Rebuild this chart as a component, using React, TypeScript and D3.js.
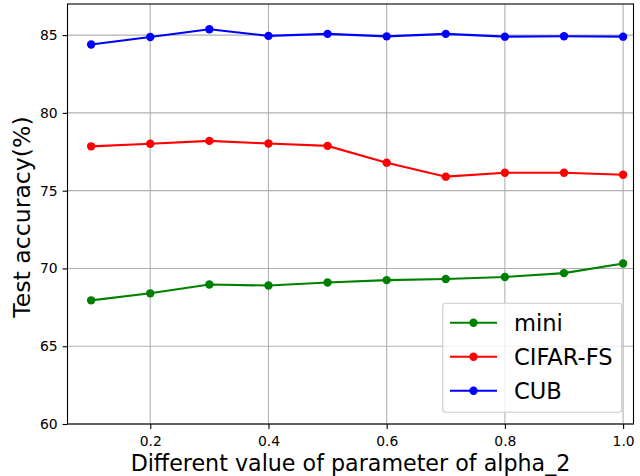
import { useEffect, useRef } from 'react';
import * as d3 from 'd3';

const alphas = [0.1, 0.2, 0.3, 0.4, 0.5, 0.6, 0.7, 0.8, 0.9, 1.0];
const miniAcc = [67.95, 68.4, 68.97, 68.9, 69.1, 69.25, 69.32, 69.45, 69.7, 70.32];
const cifarAcc = [77.85, 78.02, 78.2, 78.03, 77.88, 76.8, 75.9, 76.15, 76.15, 76.02];
const cubAcc = [84.4, 84.88, 85.38, 84.95, 85.08, 84.92, 85.08, 84.9, 84.93, 84.9];
const seriesNames = ['mini', 'CIFAR-FS', 'CUB'];
const seriesColors = ['green', 'red', 'blue'];
const xTicks = [0.2, 0.4, 0.6, 0.8, 1.0];
const yTicks = [60, 65, 70, 75, 80, 85];

const App = () => {
  const svgRef = useRef(null);

  useEffect(() => {
    const svg = d3.select(svgRef.current);
    svg.selectAll('*').remove();

    const width = 640;
    const height = 476;
    const left = 67.5, right = 633.5, top = 4, bottom = 424;
    const font = 'DejaVu Sans, sans-serif';

    const x = d3.scaleLinear().domain([0.06, 1.0176]).range([left, right]);
    const y = d3.scaleLinear().domain([60, 87]).range([bottom, top]);

    svg.attr('width', width).attr('height', height);
    svg.append('rect').attr('width', width).attr('height', height).attr('fill', 'white');

    // grid
    const grid = svg.append('g').attr('stroke', '#b0b0b0').attr('stroke-width', 1.1);
    xTicks.forEach(t => {
      grid.append('line').attr('x1', x(t)).attr('x2', x(t)).attr('y1', top).attr('y2', bottom);
    });
    yTicks.forEach(t => {
      grid.append('line').attr('x1', left).attr('x2', right).attr('y1', y(t)).attr('y2', y(t));
    });

    // series
    const all = [miniAcc, cifarAcc, cubAcc];
    const line = d3.line<number>().x((_, i) => x(alphas[i])).y(d => y(d));
    all.forEach((vals, k) => {
      svg.append('path')
        .attr('d', line(vals))
        .attr('fill', 'none')
        .attr('stroke', seriesColors[k])
        .attr('stroke-width', 2.1);
      svg.selectAll(`.dot${k}`)
        .data(vals)
        .enter()
        .append('circle')
        .attr('cx', (_, i) => x(alphas[i]))
        .attr('cy', d => y(d))
        .attr('r', 4.2)
        .attr('fill', seriesColors[k]);
    });

    // axes
    const xAxis = svg.append('g')
      .attr('transform', `translate(0,${bottom})`)
      .call(d3.axisBottom(x).tickValues(xTicks).tickSize(4.9).tickPadding(7).tickFormat(d3.format('.1f')));
    const yAxis = svg.append('g')
      .attr('transform', `translate(${left},0)`)
      .call(d3.axisLeft(y).tickValues(yTicks).tickSize(4.9).tickPadding(4.9));
    [xAxis, yAxis].forEach(a => {
      a.select('.domain').remove();
      a.selectAll('line').attr('stroke', 'black').attr('stroke-width', 1.1);
      a.selectAll('text').attr('font-family', font).attr('font-size', 13.9).attr('fill', 'black');
    });

    svg.append('rect')
      .attr('x', left).attr('y', top)
      .attr('width', right - left).attr('height', bottom - top)
      .attr('fill', 'none').attr('stroke', 'black').attr('stroke-width', 1.1);

    // labels
    svg.append('text')
      .attr('x', (left + right) / 2).attr('y', 471)
      .attr('text-anchor', 'middle')
      .attr('font-family', font).attr('font-size', 22.2)
      .text('Different value of parameter of alpha_2');
    svg.append('text')
      .attr('transform', `translate(30,${(top + bottom) / 2 + 3}) rotate(-90)`)
      .attr('text-anchor', 'middle')
      .attr('font-family', font).attr('font-size', 23.6)
      .text('Test accuracy(%)');

    // legend
    const lg = svg.append('g');
    lg.append('rect')
      .attr('x', 442.7).attr('y', 303.3).attr('width', 179).attr('height', 109)
      .attr('rx', 3)
      .attr('fill', 'white').attr('fill-opacity', 0.8)
      .attr('stroke', '#cccccc').attr('stroke-width', 1.1);
    seriesNames.forEach((name, k) => {
      const cy = 322.7 + k * 34;
      lg.append('line').attr('x1', 450).attr('x2', 497).attr('y1', cy).attr('y2', cy)
        .attr('stroke', seriesColors[k]).attr('stroke-width', 2.1);
      lg.append('circle').attr('cx', 473.5).attr('cy', cy).attr('r', 4.2).attr('fill', seriesColors[k]);
      lg.append('text').attr('x', 514).attr('y', cy + 8.2)
        .attr('font-family', font).attr('font-size', 22.6)
        .text(name);
    });
  }, []);

  return (
    <svg ref={svgRef} style={{ position: 'absolute', left: 0, top: 0 }}></svg>
  );
};

export default App;
